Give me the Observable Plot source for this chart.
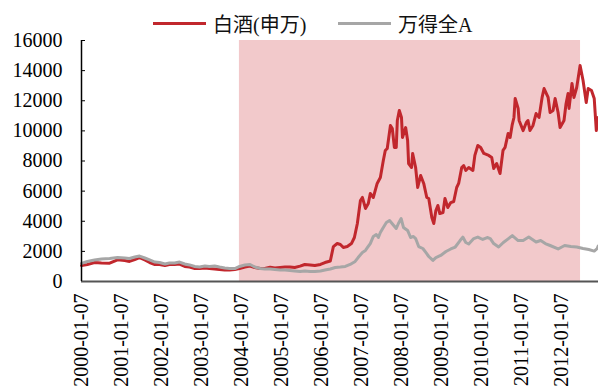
<!DOCTYPE html>
<html>
<head>
<meta charset="utf-8">
<script src="https://cdn.jsdelivr.net/npm/d3@7"></script>
<script src="https://cdn.jsdelivr.net/npm/@observablehq/plot@0.6"></script>
<style>
  html, body { margin: 0; padding: 0; background: #fff; }
  #wrap { width: 598px; height: 392px; position: relative; overflow: hidden; }
  #legend { position: relative; width: 598px; height: 30px; font-family: "Liberation Serif", "Noto Sans CJK SC", serif; font-size: 20px; color: #111; }
  .item { position: absolute; top: 11px; height: 24px; display: flex; align-items: center; white-space: nowrap; }
  .swatch { display: inline-block; width: 53px; height: 3px; margin-right: 7px; }
  #chart svg { display: block; }
</style>
</head>
<body>
<div id="wrap">
  <div id="legend"></div>
  <div id="chart"></div>
</div>
<script>
// Series names and colours
const seriesNames = ["白酒(申万)", "万得全A"];
const seriesColors = ["#c1272d", "#a6a6a6"];

// 白酒(申万) index
const liquorDates = [
  "2000-01-07","2000-03-01","2000-05-05","2000-07-07","2000-09-20","2000-12-01",
  "2001-02-05","2001-03-20","2001-05-07","2001-06-20","2001-08-07","2001-09-20","2001-11-07","2001-12-20",
  "2002-02-07","2002-03-20","2002-05-07","2002-06-20","2002-08-07","2002-09-20","2002-11-07","2002-12-20",
  "2003-02-07","2003-03-20","2003-05-07","2003-06-20","2003-08-07","2003-09-20","2003-11-07","2003-12-20",
  "2004-02-07","2004-03-25","2004-05-07","2004-06-25","2004-08-07","2004-09-25","2004-11-07","2004-12-25",
  "2005-02-07","2005-03-25","2005-05-07","2005-06-25","2005-08-07","2005-09-25","2005-11-07","2005-12-28",
  "2006-02-07","2006-03-28","2006-04-25","2006-05-30","2006-06-28","2006-07-25","2006-08-30","2006-10-07","2006-11-03","2006-11-30","2006-12-28",
  "2007-01-15","2007-02-12","2007-03-10","2007-03-28","2007-04-25","2007-05-30","2007-06-28","2007-07-25","2007-08-12","2007-08-30","2007-09-28","2007-10-15","2007-11-03","2007-11-20","2007-11-30","2007-12-18",
  "2008-01-07","2008-01-16","2008-02-14","2008-03-03","2008-03-12","2008-04-08","2008-04-18","2008-05-15","2008-06-03","2008-06-30","2008-07-28","2008-08-25","2008-09-12","2008-10-10","2008-10-28","2008-11-16","2008-12-04","2008-12-22",
  "2009-01-20","2009-02-07","2009-03-05","2009-04-01","2009-04-28","2009-05-25","2009-06-12","2009-07-10","2009-07-28","2009-08-16","2009-09-12","2009-10-20","2009-11-07","2009-12-04","2009-12-30",
  "2010-01-28","2010-03-14","2010-04-10","2010-04-28","2010-05-25","2010-06-25","2010-07-22","2010-08-10","2010-09-07","2010-09-25","2010-10-13","2010-10-30","2010-11-10","2010-12-07","2010-12-16",
  "2011-01-22","2011-02-20","2011-03-07","2011-03-25","2011-04-22","2011-05-20","2011-06-16","2011-07-14","2011-08-01","2011-09-07","2011-09-25","2011-10-22","2011-11-10","2011-12-07","2011-12-25",
  "2012-01-30","2012-02-18","2012-03-07","2012-03-16","2012-04-12","2012-04-30","2012-05-25","2012-06-25","2012-07-22","2012-08-20","2012-09-07","2012-10-07","2012-11-01","2012-11-20","2012-12-07"
];
const liquorValues = [
  1060,1130,1260,1230,1215,1440,
  1390,1330,1460,1590,1430,1260,1130,1130,
  1060,1130,1130,1160,1000,960,860,860,
  900,860,830,800,760,760,800,860,
  960,1030,930,860,860,950,900,930,
  960,960,930,1020,1130,1100,1060,1130,
  1260,1360,2320,2520,2460,2260,2320,2520,2920,3850,5380,
  5580,4850,5180,5840,5580,6510,6900,8030,8700,8830,10360,10160,8900,8900,10690,11350,
  10890,9560,10220,9360,7830,7570,8500,7570,6240,7040,6510,5580,5510,4250,3850,4710,5050,4510,
  4580,5510,4910,5240,5310,6240,6510,7570,7700,7370,7570,7370,8370,9030,8900,
  8500,8370,8230,7500,7830,7170,8700,8900,9830,9560,10360,10890,12150,11490,10690,
  10020,10560,10690,10020,10360,11150,10890,12220,12810,12220,11220,11350,12150,11220,10220,
  10690,11820,12480,11490,13150,12220,12880,14340,13340,11880,12810,12680,12150,10020,10890
];

// 万得全A index
const allADates = [
  "2000-01-07","2000-03-01","2000-05-05","2000-07-07","2000-09-20","2000-12-01",
  "2001-02-05","2001-03-20","2001-05-07","2001-06-20","2001-08-07","2001-09-20","2001-11-07","2001-12-20",
  "2002-02-07","2002-03-20","2002-05-07","2002-06-20","2002-08-07","2002-09-20","2002-11-07","2002-12-20",
  "2003-02-07","2003-03-20","2003-05-07","2003-06-20","2003-08-07","2003-09-20","2003-11-07","2003-12-20",
  "2004-02-07","2004-03-25","2004-05-07","2004-06-25","2004-08-07","2004-09-25","2004-11-07","2004-12-25",
  "2005-02-07","2005-03-25","2005-05-07","2005-06-25","2005-08-07","2005-09-25","2005-11-07","2005-12-28",
  "2006-02-07","2006-03-28","2006-05-12","2006-06-28","2006-08-12","2006-09-25","2006-11-10","2006-12-07",
  "2007-01-15","2007-02-12","2007-03-03","2007-03-28","2007-04-25","2007-05-22","2007-06-10","2007-06-28","2007-07-25","2007-08-22","2007-09-20","2007-10-28","2007-11-20","2007-12-10",
  "2008-01-04","2008-01-25","2008-03-03","2008-03-30","2008-04-25","2008-05-15","2008-06-12","2008-07-20","2008-08-16","2008-09-12","2008-10-20","2008-11-16","2008-12-30",
  "2009-02-16","2009-04-01","2009-05-12","2009-06-25","2009-07-20","2009-08-16","2009-09-12","2009-10-28","2009-12-04",
  "2010-01-18","2010-02-28","2010-03-28","2010-04-28","2010-06-12","2010-07-25","2010-09-10","2010-10-15","2010-12-07",
  "2011-01-22","2011-03-14","2011-05-20","2011-07-01","2011-08-12","2011-09-25","2011-12-07",
  "2012-02-05","2012-04-01","2012-05-25","2012-07-22","2012-09-12","2012-11-01","2012-11-28","2012-12-07"
];
const allAValues = [
  1200,1330,1430,1490,1530,1590,
  1560,1530,1630,1690,1560,1430,1290,1260,
  1160,1230,1230,1290,1160,1100,1000,960,
  1030,1000,1030,960,900,860,860,1000,
  1100,1130,960,860,830,830,800,760,
  760,730,700,660,700,660,660,700,
  760,830,930,960,1000,1130,1330,1590,
  1930,2060,2260,2520,2990,3120,2920,3250,3590,3920,4050,3720,3520,3850,
  4180,3590,3390,2920,2990,2850,2320,2190,1930,1660,1400,1590,1730,
  1990,2160,2290,2720,2950,2590,2490,2850,2950,
  2790,2920,2850,2520,2290,2590,2850,3050,2720,
  2720,2950,2620,2720,2520,2390,2160,
  2390,2320,2290,2190,2120,2020,2190,2360
];

// Axis ticks and the highlighted period
const xTickLabels = ["2000-01-07","2001-01-07","2002-01-07","2003-01-07","2004-01-07","2005-01-07","2006-01-07",
                     "2007-01-07","2008-01-07","2009-01-07","2010-01-07","2011-01-07","2012-01-07"];
const yTicks = [0, 2000, 4000, 6000, 8000, 10000, 12000, 14000, 16000];
const xExtent = ["2000-01-07", "2012-12-10"];
const shadedPeriod = [{start: "2003-12-19", end: "2012-06-29"}];

const parse = d3.utcParse("%Y-%m-%d");
const fmt = d3.utcFormat("%Y-%m-%d");

const liquor = liquorDates.map((d, i) => ({date: parse(d), value: liquorValues[i]}));
const allA = allADates.map((d, i) => ({date: parse(d), value: allAValues[i]}));
const shade = shadedPeriod.map(p => ({start: parse(p.start), end: parse(p.end)}));
const xTicks = xTickLabels.map(parse);
const xDomain = xExtent.map(parse);

// Legend
const legend = document.getElementById("legend");
const legendLeft = [153, 338];
seriesNames.forEach((name, i) => {
  const item = document.createElement("div");
  item.className = "item";
  item.style.left = legendLeft[i] + "px";
  const sw = document.createElement("span");
  sw.className = "swatch";
  sw.style.background = seriesColors[i];
  const label = document.createElement("span");
  label.textContent = name;
  item.appendChild(sw);
  item.appendChild(label);
  legend.appendChild(item);
});

const chart = Plot.plot({
  width: 598,
  height: 362,
  marginTop: 10,
  marginBottom: 111,
  marginLeft: 81,
  marginRight: 0,
  style: {fontFamily: "'Liberation Serif', 'Times New Roman', serif", fontSize: "20px", color: "#000", background: "#fff"},
  x: {type: "utc", domain: xDomain, label: null},
  y: {domain: [0, 16000], label: null},
  marks: [
    Plot.rect(shade, {x1: "start", x2: "end", y1: 0, y2: 16000, fill: "#f2c9cb"}),
    Plot.lineY(liquor, {x: "date", y: "value", stroke: seriesColors[0], strokeWidth: 3}),
    Plot.lineY(allA, {x: "date", y: "value", stroke: seriesColors[1], strokeWidth: 3}),
    Plot.axisX({ticks: xTicks, tickFormat: fmt, tickRotate: -90, tickSize: 0, tickPadding: 12, fontSize: 20, label: null}),
    Plot.axisY({ticks: yTicks, tickSize: 0, tickPadding: 19, fontSize: 20, tickFormat: d => String(d), label: null}),
    Plot.axisY({ticks: yTicks, tickSize: 4, dx: 4, tickFormat: () => "", label: null}),
    Plot.ruleY([0], {stroke: "#555", strokeWidth: 2}),
    Plot.ruleX([xDomain[0]], {stroke: "#000", strokeWidth: 1.5})
  ]
});
document.getElementById("chart").appendChild(chart);
</script>
</body>
</html>
